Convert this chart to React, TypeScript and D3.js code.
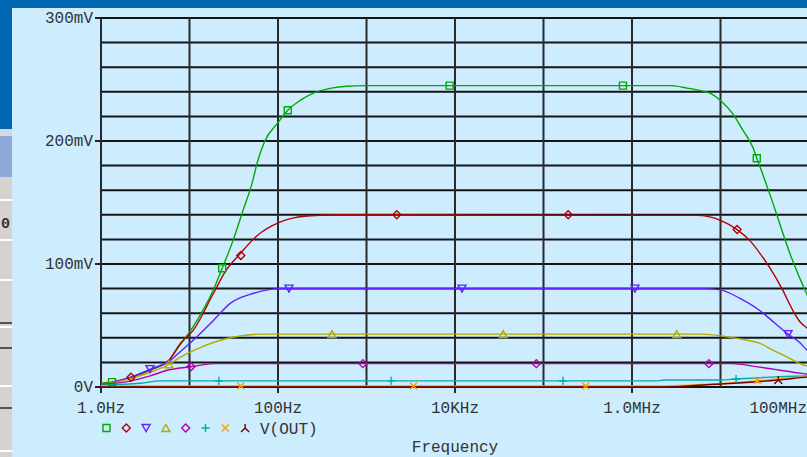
import React from "react";
import * as d3 from "d3";

// ---- data (frequency in Hz, voltage in mV) ----
const xTickValues = [1, 100, 1e4, 1e6, 1e8];
const xTickLabels = ["1.0Hz", "100Hz", "10KHz", "1.0MHz", "100MHz"];
const gridDecades = [1, 10, 100, 1e3, 1e4, 1e5, 1e6, 1e7, 1e8];
const yTickValues = [0, 100, 200, 300];
const yTickLabels = ["0V", "100mV", "200mV", "300mV"];
const yGridValues = [0, 20, 40, 60, 80, 100, 120, 140, 160, 180, 200, 220, 240, 260, 280, 300];

const greenF = [1, 1.33, 2.2, 3.6, 5.9, 7.8, 11, 18.6, 23.4, 31, 40, 52, 58, 71, 100, 129, 178, 251, 400, 600, 1000, 2.8e6, 4.2e6, 5.9e6, 7.6e6, 1e7, 1.38e7, 1.78e7, 2.35e7, 2.57e7, 3.0e7, 3.6e7, 6.2e7, 9.5e7, 1.2e8];
const greenV = [3, 4, 8, 14, 22, 34, 49, 79, 96.5, 119, 143, 168, 182, 200, 215, 225, 233, 239, 243, 244.5, 245, 245, 243, 241, 239, 233, 222, 209, 194, 186, 173, 157, 107, 75, 60];
const greenMarkF = [1.33, 23.4, 129, 8.7e3, 7.9e5, 2.57e7];
const greenMarkV = [4, 96.5, 225, 245, 245, 186];

const redF = [1, 1.33, 2.2, 3.6, 5.9, 7.8, 11, 18.6, 26, 37, 58, 105, 214, 500, 5.4e6, 1e7, 1.54e7, 2.15e7, 2.8e7, 3.6e7, 4.95e7, 6.6e7, 7.9e7, 9.5e7, 1.2e8];
const redV = [2.5, 4, 8, 14, 22, 35, 46, 76, 95, 108, 123, 134, 139, 140, 139.5, 135.5, 128, 119, 108.5, 97, 80, 62, 53, 48, 44];
const redMarkF = [2.18, 38, 2.2e3, 1.9e5, 1.54e7];
const redMarkV = [8, 107, 140, 140, 128];

const blueF = [1, 1.33, 2.2, 3.6, 5.9, 7.8, 11, 18.6, 28.8, 52, 105, 138, 6.3e6, 1e7, 1.66e7, 2.8e7, 4.1e7, 5.8e7, 7.9e7, 9.5e7, 1.2e8];
const blueV = [2, 3.5, 8, 14.5, 21, 28.5, 38, 54, 68, 76, 80, 80, 80, 79, 72, 62, 52, 43, 36, 30, 26];
const blueMarkF = [3.58, 133, 1.2e4, 1.08e6, 5.8e7];
const blueMarkV = [14.5, 80, 80, 80, 43];

const oliveF = [1, 2.2, 3.6, 5.9, 7.8, 13.2, 28.8, 68, 6.3e6, 1.07e7, 1.78e7, 2.8e7, 3.9e7, 5.6e7, 7.9e7, 9.5e7, 1.2e8];
const oliveV = [2, 7, 12, 18.5, 24, 32, 40, 43, 43, 41.3, 38.7, 35.4, 30, 24.5, 19, 17, 15];
const oliveMarkF = [5.86, 407, 3.5e4, 3.2e6];
const oliveMarkV = [18.5, 43, 43, 43];

const magF = [1, 2.2, 3.6, 5.9, 7.8, 10.4, 18.6, 1.38e7, 2.3e7, 4.4e7, 6.6e7, 9.5e7, 1.2e8];
const magV = [2, 5, 9, 14, 15.5, 16.5, 19, 19, 17, 14, 12, 10.5, 9.5];
const magMarkF = [10.4, 910, 8.3e4, 7.4e6];
const magMarkV = [16.5, 19, 19, 19];

const cyanF = [1, 2.8, 4.7, 2.0e6, 2.3e6, 1e7, 1.5e7, 3.6e7, 9.5e7, 1.2e8];
const cyanV = [1.5, 3, 5, 5, 5.7, 5.7, 6.5, 8, 9, 9];
const cyanMarkF = [21.5, 1.9e3, 1.66e5, 1.5e7];
const cyanMarkV = [5, 5, 5, 6.5];

const orangeF = [1, 2e6, 4.9e6, 1.18e7, 2.6e7, 7.9e7, 1.2e8];
const orangeV = [0.8, 0.8, 1.6, 3, 5, 8, 8.5];
const orangeMarkF = [38, 3.4e3, 3e5, 2.6e7];
const orangeMarkV = [0.8, 0.8, 0.8, 5];

const darkF = [1, 2.2e6, 7.6e6, 1.78e7, 4.5e7, 9.5e7, 1.2e8];
const darkV = [0, 0, 2, 3.5, 5.7, 8, 8.5];
const darkMarkF = [4.5e7];
const darkMarkV = [5.7];

const seriesColors = ["#00aa00", "#b40000", "#6020ff", "#b0aa00", "#b000b0", "#00aaaa", "#ffa000", "#700000"];
const seriesShapes = ["square", "diamond", "triDown", "triUp", "diamond", "plus", "cross", "lambda"];
const legendLabel = "V(OUT)";

const series = [
  { f: greenF, v: greenV, mf: greenMarkF, mv: greenMarkV },
  { f: redF, v: redV, mf: redMarkF, mv: redMarkV },
  { f: blueF, v: blueV, mf: blueMarkF, mv: blueMarkV },
  { f: oliveF, v: oliveV, mf: oliveMarkF, mv: oliveMarkV },
  { f: magF, v: magV, mf: magMarkF, mv: magMarkV },
  { f: cyanF, v: cyanV, mf: cyanMarkF, mv: cyanMarkV },
  { f: orangeF, v: orangeV, mf: orangeMarkF, mv: orangeMarkV },
  { f: darkF, v: darkV, mf: darkMarkF, mv: darkMarkV },
];

const W = 807;
const H = 457;
const FONT = "'Liberation Mono', 'DejaVu Sans Mono', monospace";

function shapePath(shape: string): string {
  switch (shape) {
    case "square":
      return "M-3.5,-3.5H3.5V3.5H-3.5Z";
    case "diamond":
      return "M0,-4L4,0L0,4L-4,0Z";
    case "triDown":
      return "M-4,-3.5L4,-3.5L0,3.5Z";
    case "triUp":
      return "M0,-3.5L4,3.5L-4,3.5Z";
    case "plus":
      return "M-4,0H4M0,-4V4";
    case "cross":
      return "M-3.5,-3.5L3.5,3.5M3.5,-3.5L-3.5,3.5";
    default:
      return "M0,-4V0L-4,4M0,0L4,4";
  }
}

export default function App() {
  const x = d3.scaleLog().domain([1, 1e8]).range([101, 809]);
  const y = d3.scaleLinear().domain([0, 300]).range([387, 18]);
  const line = d3
    .line<[number, number]>()
    .x((d) => x(d[0]))
    .y((d) => y(d[1]))
    .curve(d3.curveMonotoneX);

  const plotRight = W;

  return (
    <div style={{ position: "absolute", left: 0, top: 0 }}>
      <svg width={W} height={H} style={{ display: "block" }}>
        <defs>
          <clipPath id="plotclip">
            <rect x={101} y={10} width={W - 101} height={380} />
          </clipPath>
          <clipPath id="leftclip">
            <rect x={0} y={0} width={12} height={H} />
          </clipPath>
        </defs>
        {/* window chrome */}
        <rect x={0} y={0} width={W} height={H} fill="#cdecfe" />
        <rect x={0} y={0} width={W} height={8} fill="#0066b0" />
        <rect x={0} y={0} width={12} height={129} fill="#0066b0" />
        <rect x={0} y={129} width={12} height={7} fill="#d8d8e0" />
        <rect x={0} y={136} width={12} height={41} fill="#8eaad8" />
        <rect x={0} y={177} width={12} height={H - 177} fill="#d6d3ce" />
        {[199, 239, 279, 326, 385, 450].map((yy) => (
          <rect key={"w" + yy} x={0} y={yy} width={12} height={2} fill="#ffffff" />
        ))}
        {[322, 347, 407].map((yy) => (
          <rect key={"g" + yy} x={0} y={yy} width={12} height={2} fill="#555555" />
        ))}
        <text x={1} y={228} fontFamily={FONT} fontSize={15} fontWeight="bold" fill="#333" clipPath="url(#leftclip)">
          0
        </text>

        {/* grid */}
        {yGridValues.map((v) => (
          <line key={"hy" + v} x1={101} x2={plotRight} y1={y(v)} y2={y(v)} stroke="#151515" strokeWidth={2} />
        ))}
        {gridDecades.map((f) => (
          <line key={"vx" + f} x1={x(f)} x2={x(f)} y1={18} y2={xTickValues.includes(f) ? 393 : 387} stroke="#2a2a2a" strokeWidth={2} />
        ))}
        {yTickValues.map((v) => (
          <line key={"ty" + v} x1={95} x2={101} y1={y(v)} y2={y(v)} stroke="#222" strokeWidth={2} />
        ))}

        {/* axis labels */}
        {yTickValues.map((v, i) => (
          <text key={"yl" + v} x={93} y={y(v) + 5} textAnchor="end" fontFamily={FONT} fontSize={16} fill="#333">
            {yTickLabels[i]}
          </text>
        ))}
        {xTickValues.map((f, i) => {
          const lbl = xTickLabels[i];
          const half = (lbl.length * 9.6) / 2;
          let px = x(f);
          let anchor: "middle" | "end" = "middle";
          if (px + half > W) {
            px = W;
            anchor = "end";
          }
          return (
            <text key={"xl" + f} x={px} y={413} textAnchor={anchor} fontFamily={FONT} fontSize={16} fill="#333">
              {lbl}
            </text>
          );
        })}
        <text x={x(1e4)} y={452} textAnchor="middle" fontFamily={FONT} fontSize={16} fill="#333">
          Frequency
        </text>

        {/* traces */}
        <g clipPath="url(#plotclip)">
          {series.map((s, i) => (
            <path
              key={"s" + i}
              d={line(s.f.map((f, j) => [f, s.v[j]] as [number, number])) || ""}
              fill="none"
              stroke={seriesColors[i]}
              strokeWidth={1.4}
            />
          ))}
          {series.map((s, i) =>
            s.mf.map((f, j) => (
              <path
                key={"m" + i + "_" + j}
                d={shapePath(seriesShapes[i])}
                transform={`translate(${x(f)},${y(s.mv[j])})`}
                fill="none"
                stroke={seriesColors[i]}
                strokeWidth={1.4}
              />
            ))
          )}
        </g>

        {/* legend */}
        {seriesColors.map((c, i) => (
          <path
            key={"lg" + i}
            d={shapePath(seriesShapes[i])}
            transform={`translate(${106.5 + i * 19.8},428)`}
            fill="none"
            stroke={c}
            strokeWidth={1.4}
          />
        ))}
        <text x={260} y={434} fontFamily={FONT} fontSize={16} fill="#333">
          {legendLabel}
        </text>
      </svg>
    </div>
  );
}
